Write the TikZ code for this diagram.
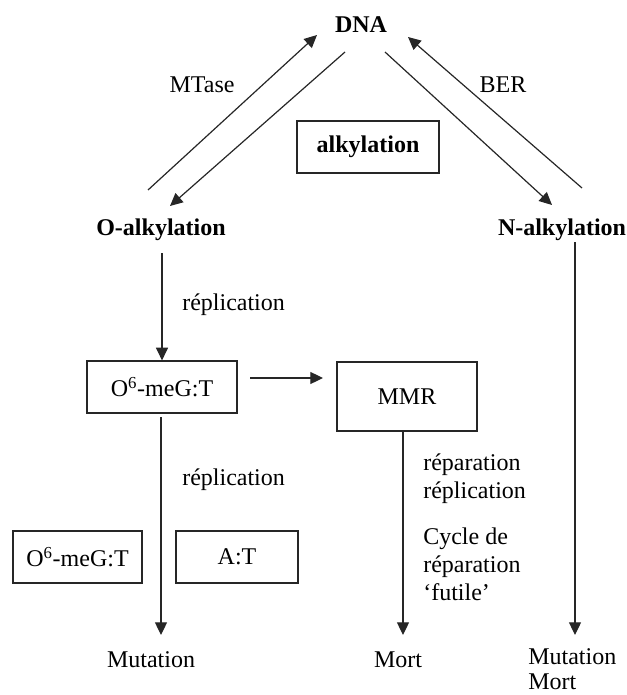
\documentclass[tikz,border=0pt]{standalone}
\usepackage{fontspec}
\setmainfont{Liberation Serif}
\usetikzlibrary{arrows.meta}
\begin{document}
\begin{tikzpicture}[x=0.75pt,y=-0.75pt,
  lbl/.style={inner sep=0pt, font=\fontsize{18}{21}\selectfont},
  blbl/.style={inner sep=0pt, font=\fontsize{18}{21}\selectfont\bfseries},
  mlbl/.style={inner sep=0pt, align=left, anchor=west, font=\fontsize{18}{21}\selectfont},
  box/.style={draw=black!85, line width=0.9pt, inner sep=0pt, minimum height=39pt, font=\fontsize{18}{21}\selectfont},
  arr/.style={draw=black!85, line width=0.9pt, -{Triangle[length=9.5pt,width=9pt]}}]
\useasboundingbox (0,0) rectangle (627,695);

% text nodes
\node[blbl] (dna) at (361,25) {DNA};
\node[lbl] (mtase) at (202,85) {MTase};
\node[lbl] (ber) at (503,85) {BER};
\node[blbl] (oalk) at (161,230) {O-alkylation};
\node[blbl] (nalk) at (562,230) {N-alkylation};
\node[mlbl] (rep1) at (182,305) {réplication};
\node[mlbl] (rep2) at (182,480) {réplication};
\node[mlbl] (reprep) at (423,479) {réparation\\réplication};
\node[mlbl] (cycle) at (423,564) {Cycle de\\réparation\\‘futile’};
\node[lbl] (mut1) at (151,660) {Mutation};
\node[lbl] (mort1) at (398,660) {Mort};
\node[mlbl] (mut2) at (528,657) {Mutation};
\node[mlbl] (mort2) at (528,682) {Mort};

% boxes
\node[box, minimum width=106.5pt, font=\fontsize{18}{21}\selectfont\bfseries] (alk) at (368,147) {alkylation};
\node[box, minimum width=112.5pt] (o6a) at (162,387) {O\textsuperscript{6}-meG:T};
\node[box, minimum width=105pt, minimum height=51.75pt] (mmr) at (407,396.5) {MMR};
\node[box, minimum width=96.75pt] (o6b) at (77.5,557) {O\textsuperscript{6}-meG:T};
\node[box, minimum width=91.5pt] (at) at (237,557) {A:T};

% connector end points
\coordinate (c1s) at (148,190); \coordinate (c1e) at (317,35);
\coordinate (c2s) at (345,52);  \coordinate (c2e) at (170,206);
\coordinate (c3s) at (385,52);  \coordinate (c3e) at (552,205);
\coordinate (c4s) at (582,188); \coordinate (c4e) at (408,37);
\coordinate (v1s) at (162,253);
\coordinate (h1s) at (250,378); \coordinate (h1e) at (323,378);
\coordinate (v2s) at (161,417); \coordinate (v2e) at (161,635);
\coordinate (v3s) at (403,431); \coordinate (v3e) at (403,635);
\coordinate (v4s) at (575,242); \coordinate (v4e) at (575,635);

\draw[arr] (c1s) -- (c1e);
\draw[arr] (c2s) -- (c2e);
\draw[arr] (c3s) -- (c3e);
\draw[arr] (c4s) -- (c4e);
\draw[arr] (v1s) -- (o6a.north);
\draw[arr] (h1s) -- (h1e);
\draw[arr] (v2s) -- (v2e);
\draw[arr] (v3s) -- (v3e);
\draw[arr] (v4s) -- (v4e);
\end{tikzpicture}
\end{document}
